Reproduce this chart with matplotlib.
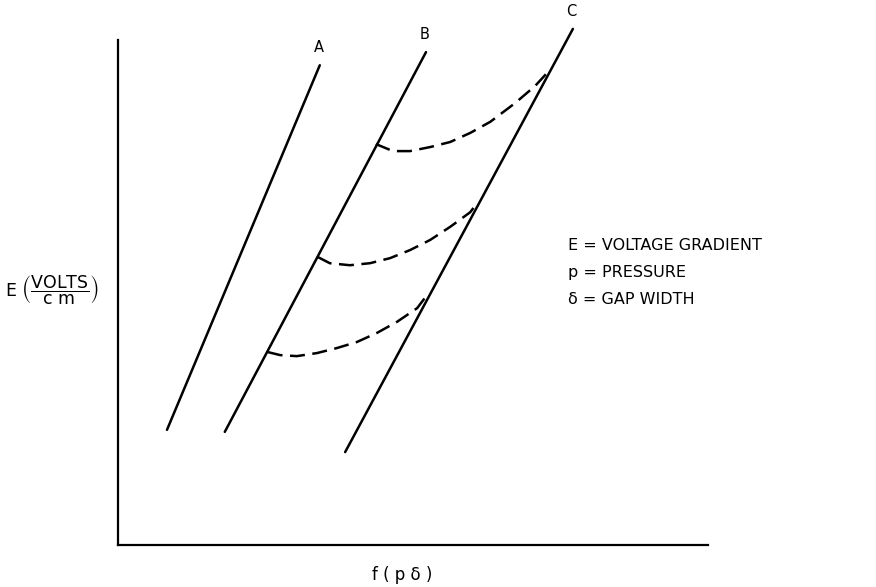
import matplotlib
matplotlib.use("Agg")
import matplotlib.pyplot as plt

plt.rcParams['font.family'] = ['DejaVu Sans']
plt.rcParams['mathtext.fontset'] = 'dejavusans'

# Breakdown lines A, B, C (end points, arbitrary units 0-100)
line_names = ["A", "B", "C"]
line_x = [[8.3, 34.2], [18.1, 52.2], [38.5, 77.1]]
line_y = [[22.8, 95.0], [22.4, 97.6], [18.4, 102.2]]

# Transition curves from line B to line C
trans_x = [
    [43.7, 46.6, 49.5, 52.9, 56.3, 59.7, 63.1, 67.3, 70.7, 72.9],
    [33.9, 35.9, 39.3, 42.7, 46.1, 49.5, 52.9, 56.3, 59.7, 61.0],
    [25.4, 27.5, 30.3, 33.7, 37.1, 40.5, 43.9, 47.3, 50.7, 52.0],
]
trans_y = [
    [79.4, 78.0, 78.0, 78.8, 79.8, 81.6, 83.8, 87.5, 90.9, 93.7],
    [57.0, 55.8, 55.4, 55.8, 56.8, 58.4, 60.4, 63.0, 65.9, 67.9],
    [38.2, 37.6, 37.4, 38.0, 39.0, 40.2, 42.0, 44.2, 46.9, 48.9],
]

legend_lines = ["E = VOLTAGE GRADIENT", "p = PRESSURE", "\u03b4 = GAP WIDTH"]

fig = plt.figure(figsize=(8.76, 5.87), dpi=100)
ax = fig.add_axes([118 / 876, 1 - 545 / 587, 590 / 876, 505 / 587])
ax.set_xlim(0, 100)
ax.set_ylim(0, 100)

for name, xs, ys in zip(line_names, line_x, line_y):
    ax.plot(xs, ys, color="black", lw=1.8, solid_capstyle="round", clip_on=False)
    ax.text(xs[1] - 0.2, ys[1] + 2.0, name, ha="center", va="bottom",
            fontsize=10.5, clip_on=False)

for xs, ys in zip(trans_x, trans_y):
    ax.plot(xs, ys, color="black", lw=1.8, linestyle=(0, (6, 3)), clip_on=False)

for s in ["top", "right"]:
    ax.spines[s].set_visible(False)
for s in ["left", "bottom"]:
    ax.spines[s].set_linewidth(1.6)
ax.set_xticks([])
ax.set_yticks([])

fig.text(402 / 876, 1 - 575 / 587, "f ( p \u03b4 )", ha="center", va="center",
         fontsize=12)
fig.text(5 / 876, 1 - 289 / 587,
         r"E $\left(\dfrac{\mathrm{VOLTS}}{\mathrm{c\ m}}\right)$",
         ha="left", va="center", fontsize=12.5)

for i, s in enumerate(legend_lines):
    fig.text(568 / 876, 1 - (245 + 27 * i) / 587, s, ha="left", va="center",
             fontsize=11.5)

fig.savefig("out.png", dpi=100)
